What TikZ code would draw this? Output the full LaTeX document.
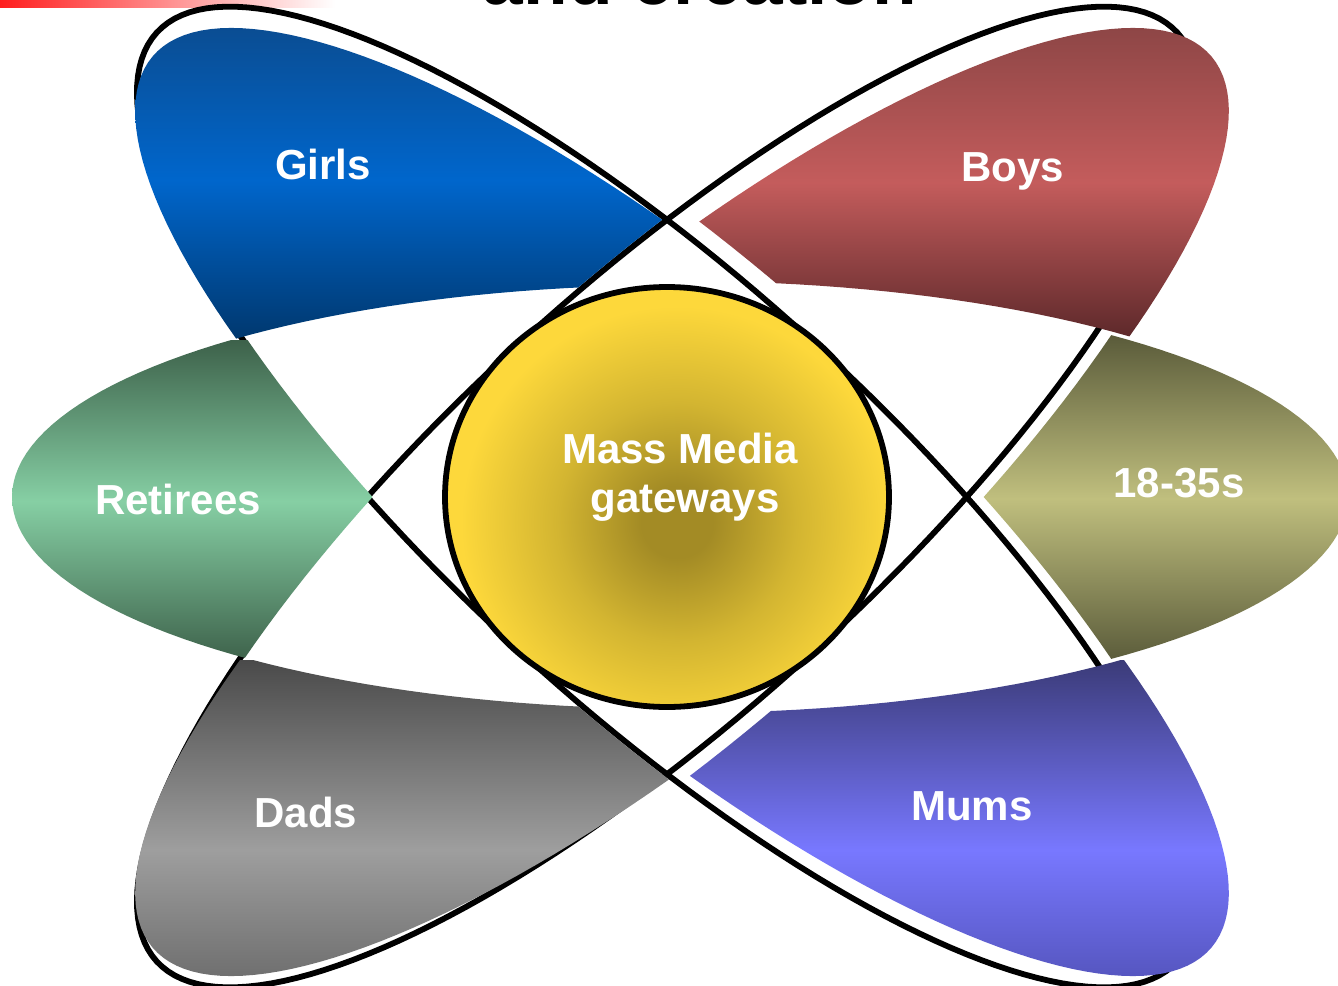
\documentclass[tikz,border=0pt]{standalone}
\usepackage{fontspec}
\setmainfont{Liberation Sans}
% ellipse as a polygon in picture coordinates: centre (#1,#2), radii #3,#4, turned #5 degrees (positive = clockwise on the page)
\newcommand{\ellpath}[5]{plot[domain=0:360,samples=181,variable=\t] ({#1+#3*cos(\t)*cos(#5)-#4*sin(\t)*sin(#5)},{#2+#3*cos(\t)*sin(#5)+#4*sin(\t)*cos(#5)}) -- cycle}
\newcommand{\inell}[5]{\clip \ellpath{#1}{#2}{#3}{#4}{#5};}
\newcommand{\outell}[5]{\clip (-3000,-3000) -- (-3000,4000) -- (4400,4000) -- (4400,-3000) -- cycle \ellpath{#1}{#2}{#3}{#4}{#5};}
\definecolor{girlsTop}{HTML}{0B4B8E}
\definecolor{girlsMid}{HTML}{0066CC}
\definecolor{girlsBot}{HTML}{00366B}
\definecolor{boysTop}{HTML}{8B4545}
\definecolor{boysMid}{HTML}{C45C5C}
\definecolor{boysBot}{HTML}{582628}
\definecolor{retTop}{HTML}{3D614A}
\definecolor{retMid}{HTML}{86CFA4}
\definecolor{ttTop}{HTML}{5A5B3A}
\definecolor{ttMid}{HTML}{C0BF7E}
\definecolor{dadsTop}{HTML}{4A4A4A}
\definecolor{dadsMid}{HTML}{9E9E9E}
\definecolor{dadsBot}{HTML}{585858}
\definecolor{mumsTop}{HTML}{3B3B78}
\definecolor{mumsMid}{HTML}{7878FF}
\definecolor{mumsBot}{HTML}{4545A0}
\definecolor{ydark}{HTML}{A38B25}
\definecolor{ymid}{HTML}{D3B531}
\definecolor{ylight}{HTML}{FDD83B}
\definecolor{redbar}{HTML}{FF1E1E}
\pgfdeclareradialshading{hubshade}{\pgfpoint{0bp}{0bp}}{color(0bp)=(ydark); color(3bp)=(ydark); color(10bp)=(ymid); color(18bp)=(ylight); color(50bp)=(ylight)}
\begin{document}
\begin{tikzpicture}[x=0.5pt,y=-0.5pt,
  lbl/.style={text=white,font=\fontsize{21}{25}\selectfont\bfseries,anchor=base,inner sep=0pt},
  outl/.style={draw=black,line width=2.9pt,line join=round}]
\useasboundingbox (0,0) rectangle (1338,985);
\clip (0,0) rectangle (1338,985);

% title remnant and red bar
\shade[left color=redbar, right color=white] (0,0) rectangle (335,7);
\node[anchor=base,inner sep=0pt,font=\fontsize{36.5}{40}\selectfont\bfseries] (title) at (700,4) {and creation};

% outlines of the two tilted ellipses
\draw[outl] \ellpath{667}{497}{690}{213}{42.3};
\draw[outl] \ellpath{667}{497}{690}{213}{-42.3};

% Retirees
\begin{scope}
\inell{680}{497}{668}{212}{0}
\outell{667}{497}{686}{209}{42.3}
\outell{667}{497}{686}{209}{-42.3}
\clip (0,0) rectangle (667,985);
\shade[top color=retTop, bottom color=retTop, middle color=retMid] (0,340) rectangle (420,662);
\end{scope}

% Girls
\begin{scope}
\inell{682}{502}{692}{212}{40.07}
\outell{667}{497}{693}{216}{-42.3}
\outell{680}{497}{668}{212}{0}
\clip (0,0) rectangle (682,497);
\shade[top color=girlsTop, bottom color=girlsBot, middle color=girlsMid] (100,15) rectangle (700,345);
\end{scope}

% Dads
\begin{scope}
\inell{682}{502}{692}{212}{-40.07}
\outell{667}{497}{693}{216}{42.3}
\outell{680}{497}{668}{212}{0}
\clip (0,497) rectangle (682,985);
\shade[top color=dadsTop, bottom color=dadsBot, middle color=dadsMid] (100,660) rectangle (700,1040);
\end{scope}

% 18-35s
\begin{scope}
\inell{680}{497}{668}{212}{0}
\outell{684}{497}{690}{213}{42.3}
\outell{684}{497}{690}{213}{-42.3}
\clip (667,0) rectangle (1338,985);
\shade[top color=ttTop, bottom color=ttTop, middle color=ttMid] (960,335) rectangle (1345,662);
\end{scope}

% Boys
\begin{scope}
\inell{682}{502}{692}{212}{-40.07}
\outell{697}{497}{690}{213}{42.3}
\outell{680}{497}{672}{216}{0}
\clip (667,0) rectangle (1338,497);
\shade[top color=boysTop, bottom color=boysBot, middle color=boysMid] (670,20) rectangle (1245,345);
\end{scope}

% Mums
\begin{scope}
\inell{682}{502}{692}{212}{40.07}
\outell{692}{497}{690}{213}{-42.3}
\outell{680}{497}{672}{216}{0}
\clip (667,497) rectangle (1338,985);
\shade[top color=mumsTop, bottom color=mumsBot, middle color=mumsMid] (670,660) rectangle (1245,1040);
\end{scope}

% central disc
\begin{scope}
\clip (667,497) ellipse [x radius=222, y radius=210];
\shade[shading=hubshade] (677,522) circle (300);
\end{scope}
\draw[outl] (667,497) ellipse [x radius=222, y radius=210];

% labels
\node[lbl] (girls) at (323,179) {Girls};
\node[lbl] (boys) at (1013,181) {Boys};
\node[lbl] (retirees) at (178,514) {Retirees};
\node[lbl] (ages) at (1179,497) {18-35s};
\node[lbl] (dads) at (306,827) {Dads};
\node[lbl] (mums) at (972,820) {Mums};
\node[lbl] (mass) at (680,463) {Mass Media};
\node[lbl] (gate) at (685,512) {gateways};
\end{tikzpicture}
\end{document}
